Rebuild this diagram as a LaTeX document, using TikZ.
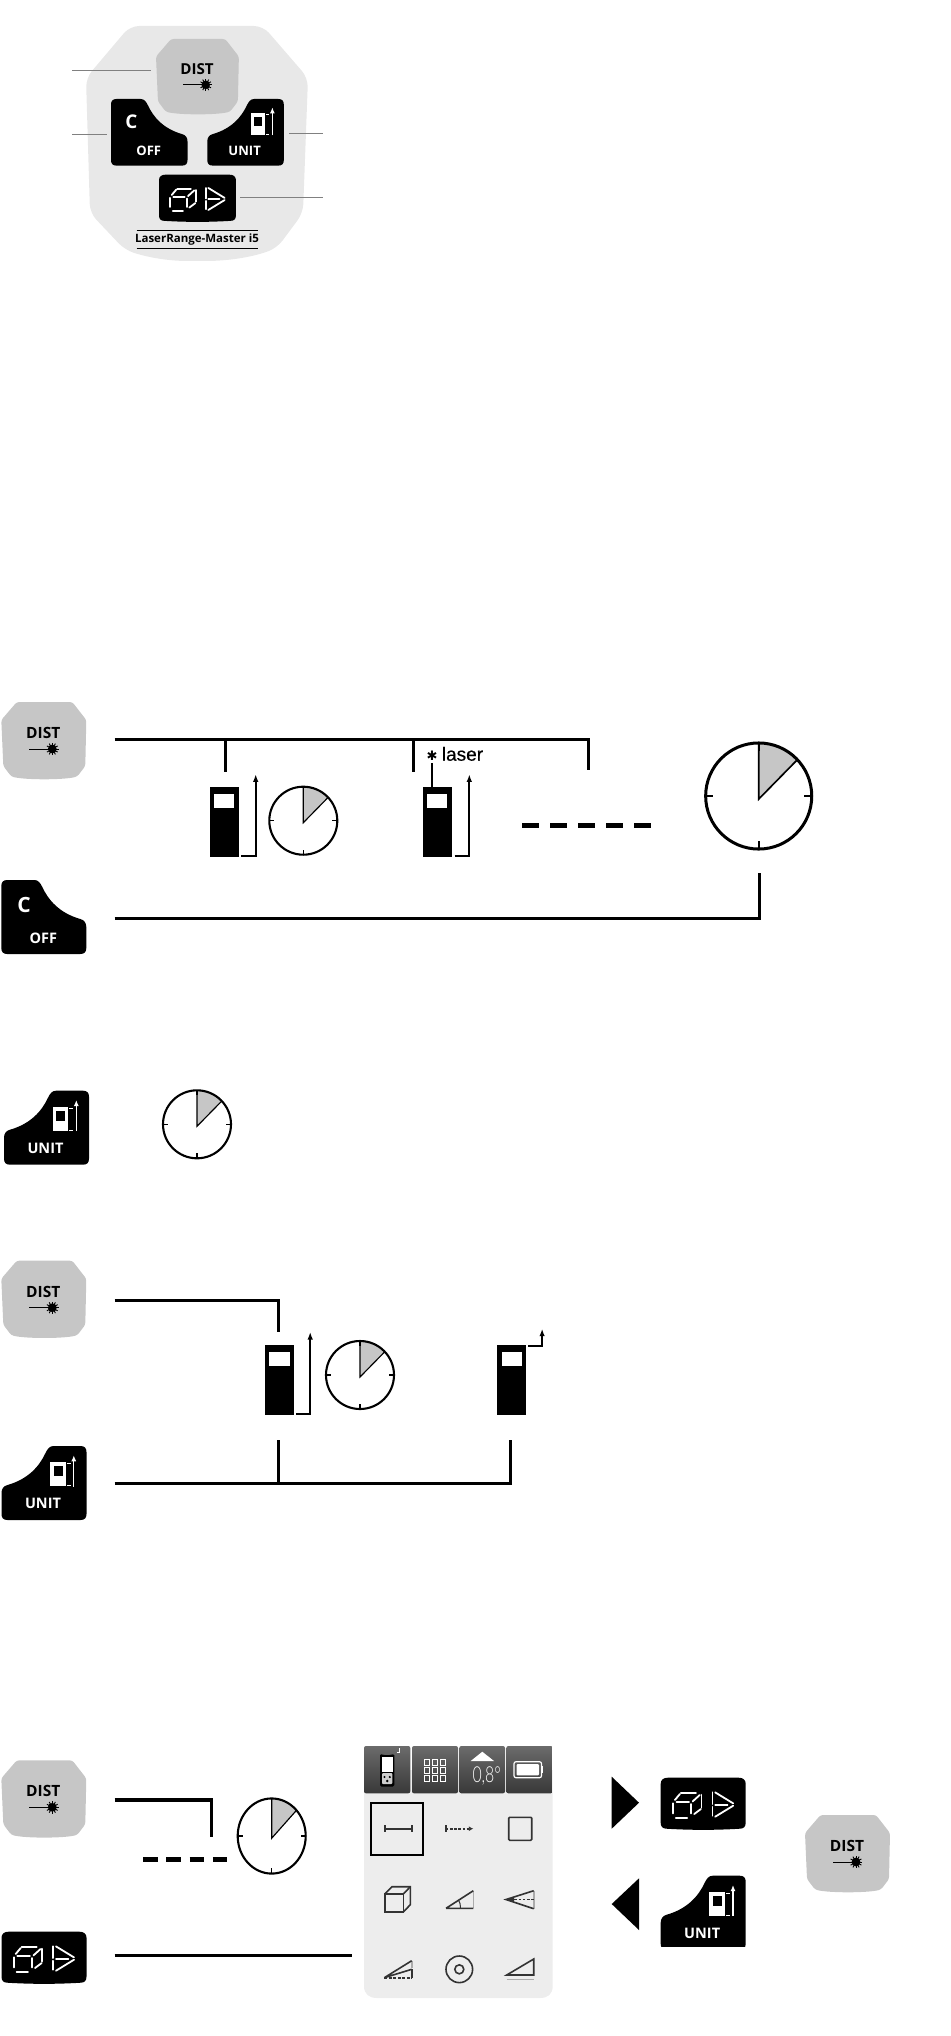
\documentclass[tikz,border=0pt]{standalone}
\usepackage{fontspec}
\usetikzlibrary{arrows.meta}
\setmainfont{Open Sans}
\newfontfamily\laserfont[FakeBold=0.5]{Liberation Sans}
\newfontfamily\thinfont{Lato Light}
\newfontfamily\symfont{DejaVu Sans}
\newcommand{\fsz}[1]{\fontsize{#1}{#1}\selectfont}
\definecolor{keygray}{HTML}{C6C6C6}
\definecolor{bodygray}{HTML}{E8E8E8}
\definecolor{scrgray}{HTML}{EDEDED}
\definecolor{icondark}{HTML}{333333}
\definecolor{iconlight}{HTML}{ABABAB}
\definecolor{leadgray}{HTML}{808080}
\colorlet{HdrA}{black!58}
\colorlet{HdrB}{black!78}
\tikzset{
  keytext/.style={transform shape,inner sep=0pt,font=\bfseries\fsz{15.5}},
  conn/.style={line width=3.2pt,miter limit=10},
  brk/.style={line width=2.1pt,-{Latex[length=7.5pt,width=5.5pt]}},
  leader/.style={leadgray,line width=.8pt},
  dashbar/.style={line width=4.6pt},
  devbody/.style={fill=black,inner sep=0pt,minimum width=28.7pt,minimum height=70pt},
  devwin/.style={fill=white,inner sep=0pt,minimum width=20.6pt,minimum height=14pt},
  seg/.style={white,line width=1.8pt,line cap=round},
  ico/.style={icondark,line width=1.6pt},
  icog/.style={iconlight,line width=1.6pt},
  hdr/.style={top color=HdrA,bottom color=HdrB,draw=none,rounded corners=2pt},
  pics/distkey/.style={code={
    \fill[keygray,rounded corners=2.5pt] (15.5,0) -- (71,0) -- (85,18) -- (84,64) -- (76,74.5)
      .. controls (62,78) and (24,78) .. (10,74.5) -- (2,64) -- (0,18) -- cycle;
    \node[keytext] (-label) at (42,31) {DIST};
    \draw[line width=.9pt] (28,47) -- (50,47);
    \fill (51,47) circle (4.4);
    \foreach \a in {0,30,...,330} \draw[line width=.9pt] (51,47) -- ++(\a:6.2);
  }},
  pics/offkey/.style={code={
    \fill (6,0) -- (33,0) .. controls (37,0) and (39,3) .. (41,7)
      .. controls (47,20) and (58,33) .. (79,39) .. controls (83,40) and (85,43) .. (85,47)
      -- (85,68) .. controls (85,72) and (83,74) .. (79,74) -- (6,74)
      .. controls (2,74) and (0,72) .. (0,68) -- (0,6) .. controls (0,2) and (2,0) .. (6,0) -- cycle;
    \node[keytext,white,font=\bfseries\fsz{21}] (-c) at (22.7,25) {C};
    \node[keytext,white,font=\bfseries\fsz{14.5}] (-label) at (42,58) {OFF};
  }},
  pics/unitkey/.style={code={
    \fill (79,0) -- (52,0) .. controls (48,0) and (46,3) .. (44,7)
      .. controls (38,20) and (27,33) .. (6,39) .. controls (2,40) and (0,43) .. (0,47)
      -- (0,68) .. controls (0,72) and (2,74) .. (6,74) -- (79,74)
      .. controls (83,74) and (85,72) .. (85,68) -- (85,6) .. controls (85,2) and (83,0) .. (79,0) -- cycle;
    \node[keytext,white,font=\bfseries\fsz{14.5}] (-label) at (41.5,57.6) {UNIT};
    \fill[white] (48.7,16) rectangle (64.3,40.3);
    \fill[black] (52,20) rectangle (61,30);
    \draw[white,line width=.9pt] (65.3,17.6) -- (69,17.6) (65.3,39.4) -- (69,39.4);
    \draw[white,line width=1.2pt,-{Latex[length=6pt,width=5pt]}] (72.3,40.5) -- (72.3,9.3);
  }},
  pics/cubekey/.style={code={
    \fill (7,0) -- (78,0) .. controls (82,0) and (85,2) .. (85,6) -- (85,45)
      .. controls (85,49) and (83,51) .. (79,51) .. controls (55,52.5) and (30,52.5) .. (6,51)
      .. controls (2,51) and (0,49) .. (0,45) -- (0,6) .. controls (0,2) and (3,0) .. (7,0) -- cycle;
    \begin{scope}[x=.3333pt,y=-.3333pt]
      \draw[seg] (37.5,77) -- (37.5,107);
      \draw[seg] (45.5,121) -- (79.5,121);
      \draw[seg] (47.5,74) -- (85,74);
      \draw[seg] (91.5,79) -- (91.5,107);
      \draw[seg] (42.5,67) -- (57.5,49);
      \draw[seg] (60.5,47) -- (105.5,47);
      \draw[seg] (122.5,51) -- (122.5,89);
      \draw[seg] (100.5,109) -- (120.5,94);
      \draw[seg] (96,71) -- (117,52);
      \draw[seg] (155.5,44) -- (155.5,79);
      \draw[seg] (155.5,87) -- (155.5,114);
      \draw[seg] (163.5,81) -- (200.5,81);
      \draw[seg] (163.5,44) -- (217.5,77);
      \draw[seg] (163.5,117) -- (217.5,84);
    \end{scope}
  }},
  pics/clock/.style={code={
    \fill[keygray] (0,2) -- (0,-34) .. controls (9,-34) and (18,-31) .. (25,-23.5) -- cycle;
    \draw[line width=#1*.55pt] (0,-34) -- (0,2) -- (25,-23.5);
    \draw[line width=#1*1pt] (0,0) circle (34);
    \draw[line width=#1*.75pt] (-34,0) -- (-29,0) (34,0) -- (29,0) (0,34) -- (0,29) (0,-34) -- (0,-29);
  }},
}
\begin{document}
\begin{tikzpicture}[x=1pt,y=-1pt]
\useasboundingbox (0,0) rectangle (950,2036);

% ---- keypad panel ----
\fill[bodygray,rounded corners=9pt] (130,26) -- (263,26) -- (308,78) -- (303,213) -- (277,248)
  .. controls (250,258) and (225,261) .. (197,261) .. controls (170,261) and (150,258) .. (125,250)
  -- (90,213) -- (86,78) -- cycle;
\pic[scale=.975] (pd) at (156,39) {distkey};
\pic[scale=.9] (po) at (111,99) {offkey};
\pic[scale=.9] (pu) at (207.3,99) {unitkey};
\pic[scale=.905] (pc) at (159,174.7) {cubekey};
\coordinate (l1a) at (72.3,70.3); \coordinate (l1b) at (151,70.3);
\coordinate (l2a) at (72.3,134.3); \coordinate (l2b) at (106.7,134.3);
\coordinate (l3a) at (289,133.3); \coordinate (l3b) at (323.3,133.3);
\coordinate (l4a) at (240,197); \coordinate (l4b) at (323.3,197);
\draw[leader] (l1a) -- (l1b);
\draw[leader] (l2a) -- (l2b);
\draw[leader] (l3a) -- (l3b);
\draw[leader] (l4a) -- (l4b);
\node[inner sep=0pt,font=\bfseries\fsz{11.5}] (brand) at (197,239.3) {LaserRange-Master i5};
\coordinate (b1a) at (136.7,230); \coordinate (b1b) at (257.7,230);
\coordinate (b2a) at (136.7,248.3); \coordinate (b2b) at (257.7,248.3);
\draw[line width=.8pt] (b1a) -- (b1b);
\draw[line width=.8pt] (b2a) -- (b2b);

% ---- section 1 ----
\pic (d1) at (1.3,702) {distkey};
\pic (o1) at (1.3,880) {offkey};
\coordinate (s1a) at (114.7,739.3); \coordinate (s1b) at (588.7,739.3); \coordinate (s1c) at (588.7,770);
\coordinate (s1d) at (225.7,739.3); \coordinate (s1e) at (225.7,771.7);
\coordinate (s1f) at (413.3,739.3); \coordinate (s1g) at (413.3,771.7);
\draw[conn] (s1a) -- (s1b) -- (s1c);
\draw[conn] (s1d) -- (s1e);
\draw[conn] (s1f) -- (s1g);
\node[devbody] (dev1) at (224.3,822) {};
\node[devwin] (dev1w) at (224,801.3) {};
\coordinate (a1a) at (241.3,856); \coordinate (a1b) at (255.7,856); \coordinate (a1c) at (255.7,774.3);
\draw[brk] (a1a) -- (a1b) -- (a1c);
\pic at (303.3,820.7) {clock=2.1};
\node[inner sep=0pt,font=\symfont\fsz{13}] (star) at (432,755.7) {✱};
\node[inner sep=0pt,anchor=base west,font=\laserfont\fsz{19}] (laser) at (441.7,760.7) {laser};
\node[devbody] (dev2) at (437.3,822) {};
\node[devwin] (dev2w) at (437,801.3) {};
\coordinate (lz) at (432,763);
\draw[line width=2pt] (lz) -- (lz |- dev2.north);
\coordinate (a2a) at (454.7,856); \coordinate (a2b) at (469.3,856); \coordinate (a2c) at (469.3,774.3);
\draw[brk] (a2a) -- (a2b) -- (a2c);
\coordinate (da) at (522,825.3); \coordinate (db) at (651,825.3);
\draw[dashbar,dash pattern=on 17pt off 11.1pt] (da) -- (db);
\pic[scale=1.56] at (758.7,796) {clock=3};
\coordinate (s1h) at (114.7,918.3); \coordinate (s1i) at (759.3,918.3); \coordinate (s1j) at (759.3,873);
\draw[conn] (s1h) -- (s1i) -- (s1j);

% ---- section 2 ----
\pic (u2) at (4,1090.7) {unitkey};
\pic at (197,1124.3) {clock=2.1};

% ---- section 3 ----
\pic (d3) at (1.3,1260.7) {distkey};
\pic (u3) at (1.5,1446) {unitkey};
\coordinate (s3a) at (114.7,1300.3); \coordinate (s3b) at (278.3,1300.3); \coordinate (s3c) at (278.3,1332);
\draw[conn] (s3a) -- (s3b) -- (s3c);
\node[devbody] (dev3) at (279.2,1380) {};
\node[devwin] (dev3w) at (279.6,1359) {};
\coordinate (a3a) at (296.4,1413.7); \coordinate (a3b) at (310.2,1413.7); \coordinate (a3c) at (310.2,1332);
\draw[brk] (a3a) -- (a3b) -- (a3c);
\pic at (360,1375) {clock=2.1};
\node[devbody] (dev4) at (511.6,1380) {};
\node[devwin] (dev4w) at (511.8,1359) {};
\coordinate (a4a) at (528,1346); \coordinate (a4b) at (542.1,1346); \coordinate (a4c) at (542.1,1328.7);
\draw[brk] (a4a) -- (a4b) -- (a4c);
\coordinate (s3d) at (114.7,1483.3); \coordinate (s3e) at (510.5,1483.3); \coordinate (s3f) at (510.5,1440);
\coordinate (s3g) at (278.3,1483.3); \coordinate (s3h) at (278.3,1440);
\draw[conn] (s3d) -- (s3e) -- (s3f);
\draw[conn] (s3g) -- (s3h);

% ---- section 4 ----
\pic (d4) at (1.3,1760.3) {distkey};
\pic (c4) at (1.5,1931.7) {cubekey};
\coordinate (s4a) at (114.7,1800); \coordinate (s4b) at (211.7,1800); \coordinate (s4c) at (211.7,1837.3);
\draw[conn] (s4a) -- (s4b) -- (s4c);
\coordinate (dc) at (143,1859.3); \coordinate (dd) at (227.7,1859.3);
\draw[dashbar,dash pattern=on 14.5pt off 8.8pt] (dc) -- (dd);
\pic[yscale=1.105] at (271.7,1836) {clock=2.1};
\coordinate (s4d) at (114.7,1955.3); \coordinate (s4e) at (352,1955.3);
\draw[conn] (s4d) -- (s4e);

% ---- screen ----
\fill[scrgray] (364,1770) -- (552.7,1770) -- (552.7,1986)
  .. controls (552.7,1994) and (548,1998) .. (540,1998) -- (377,1998)
  .. controls (369,1998) and (364,1994) .. (364,1986) -- cycle;
\shade[hdr] (364,1746) rectangle (410.3,1793.3);
\shade[hdr] (412,1746) rectangle (458,1793.3);
\shade[hdr] (459.3,1746) rectangle (505,1793.3);
\shade[hdr] (506.3,1746) rectangle (552.7,1793.3);
% device glyph
\fill[black,rounded corners=1.5pt] (380,1753.7) -- (383,1755) -- (391,1755) -- (394.3,1753.7) -- (394.3,1786.5) -- (380,1786.5) -- cycle;
\fill[white] (381.7,1757) rectangle (392.6,1772);
\fill[iconlight!60,rounded corners=1pt] (382,1773) rectangle (392.4,1784);
\fill (384.5,1777) circle (1.2); \fill (389.8,1777) circle (1.2); \fill (387.2,1781) circle (1.4);
\draw[white,line width=1pt] (396.7,1752.5) -- (399.5,1752.5) -- (399.5,1748);
% grid glyph
\foreach \i in {0,1,2} \foreach \j in {0,1,2}
  \draw[white,line width=.8pt] (424.3+\i*8,1759.6+\j*8) rectangle ++(5.4,5.4);
% level glyph
\fill[white] (482.3,1751.7) -- (494,1761) -- (470.7,1761) -- cycle;
\node[inner sep=0pt,white,xscale=.72,transform shape,font=\thinfont\fsz{22}] (tilt) at (486.7,1776) {0,8°};
% battery glyph
\draw[white,line width=1.2pt,rounded corners=2pt] (514,1761.7) rectangle (541.5,1777.7);
\fill[white,rounded corners=1pt] (516.5,1764) rectangle (539,1775.4);
\fill[white] (542,1766) rectangle (543.4,1773.4);
% selection
\node[draw=black,line width=2pt,inner sep=0pt,minimum width=52pt,minimum height=52pt] (sel) at (397.3,1828.5) {};
% row 1
\coordinate (i1a) at (384.7,1828.7); \coordinate (i1b) at (411.7,1828.7);
\draw[ico] (i1a) -- (i1b);
\draw[ico] (i1a) ++(0,-3.5) -- ++(0,7);
\draw[ico] (i1b) ++(0,-3.5) -- ++(0,7);
\coordinate (i2a) at (445.7,1828.7); \coordinate (i2b) at (473.3,1828.7);
\draw[ico] (i2a) ++(0,-3.5) -- ++(0,7);
\draw[ico,dash pattern=on 2.6pt off 1.6pt,-{Latex[length=4.5pt,width=5pt]}] (i2a) -- (i2b);
\draw[ico,rounded corners=1pt] (508.7,1817.3) rectangle (531.7,1840.3);
% row 2
\draw[ico] (384.7,1894) rectangle (403.3,1912);
\draw[ico] (384.7,1894) -- (392,1886.7) -- (410.3,1886.7) -- (410.3,1904.7) -- (403.3,1912);
\draw[ico] (403.3,1894) -- (410.3,1886.7);
\draw[icog] (473.3,1890.7) -- (473.3,1908.3);
\draw[ico] (446,1908.3) -- (473.3,1908.3) (446,1908.3) -- (473.3,1890.7);
\draw[ico,line width=1pt] (458.5,1900) .. controls (460,1902) and (460.5,1905) .. (460.5,1908);
\draw[icog] (533.7,1890.7) -- (533.7,1908.7);
\draw[ico] (533.7,1890.7) -- (506,1899.5) -- (533.7,1908.7);
\draw[ico,dash pattern=on 2.6pt off 1.6pt] (506,1899.5) -- (533.7,1899.5);
\fill[icondark] (506,1899.5) -- (514,1897) -- (514,1902) -- cycle;
% row 3
\draw[icog] (411.7,1960.7) -- (411.7,1968);
\draw[ico] (411.7,1969.3) -- (411.7,1977.7);
\draw[ico] (384.3,1977.7) -- (411.7,1960.7) (384.3,1977.7) -- (411.7,1969.3);
\draw[ico,dash pattern=on 3pt off 1.5pt] (384.3,1977.7) -- (411.7,1977.7);
\draw[ico] (459.3,1969.3) circle (13.3);
\draw[ico] (459.3,1969.3) circle (4.5);
\draw[ico] (506.7,1975) -- (533.7,1959) -- (533.7,1975) -- cycle;
\draw[icog] (506.7,1979.3) -- (533.7,1979.3);

% ---- right ----
\fill (611.7,1776.7) -- (639,1802.7) -- (611.7,1828.7) -- cycle;
\fill (639,1878.3) -- (611.7,1904) -- (639,1930) -- cycle;
\pic (c5) at (660.7,1777.7) {cubekey};
\begin{scope}
  \clip (650,1870) rectangle (755,1946);
  \pic (u5) at (660.7,1875.7) {unitkey};
\end{scope}
\pic (d5) at (805,1815) {distkey};
\end{tikzpicture}
\end{document}
